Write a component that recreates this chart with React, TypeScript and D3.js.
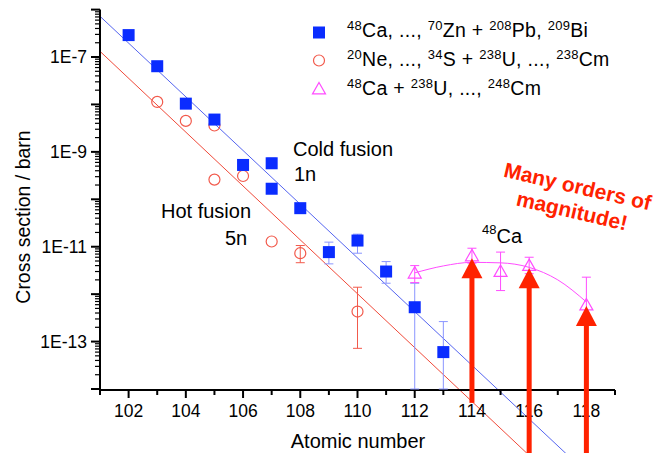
import React from "react";
import * as d3 from "d3";

const W = 655;
const H = 453;

const X_DOMAIN = [101, 119];
const Y_DOMAIN = [1e-14, 1e-6];
const X_TICK_LABELS = [102, 104, 106, 108, 110, 112, 114, 116, 118];
const X_MINOR = [101, 103, 105, 107, 109, 111, 113, 115, 117, 119];
const Y_TICK_VALUES = [1e-7, 1e-9, 1e-11, 1e-13];
const Y_TICK_LABELS = ["1E-7", "1E-9", "1E-11", "1E-13"];
const Y_DECADES = [-14, -13, -12, -11, -10, -9, -8, -7, -6];

// Cold fusion (48Ca ... 70Zn + 208Pb, 209Bi)
const COLD_Z = [102, 103, 104, 105, 106, 107, 107, 108, 109, 110, 111, 112, 113];
const COLD_SIGMA = [2.9e-7, 6.4e-8, 1.04e-8, 4.8e-9, 5.3e-10, 5.75e-10, 1.67e-10, 6.5e-11, 7.7e-12, 1.35e-11, 3.0e-12, 5.3e-13, 6.0e-14];
const COLD_ERR_LO = [null, 5.0e-8, null, null, null, 4.5e-10, null, null, 4.35e-12, 7.3e-12, 1.7e-12, 1e-14, 1e-14];
const COLD_ERR_HI = [null, 8.0e-8, null, null, null, 7.4e-10, null, null, 1.25e-11, 1.84e-11, 4.86e-12, 1.7e-12, 2.64e-13];

// Hot fusion (20Ne ... 34S + 238U ... 238Cm)
const HOT_Z = [103, 104, 105, 105, 106, 107, 108, 110];
const HOT_SIGMA = [1.13e-8, 4.5e-9, 3.6e-9, 2.6e-10, 3.1e-10, 1.29e-11, 7.3e-12, 4.3e-13];
const HOT_ERR_LO = [null, null, null, null, null, null, 4.6e-12, 7.2e-14];
const HOT_ERR_HI = [null, null, null, null, null, null, 1.06e-11, 1.4e-12];

// 48Ca + 238U ... 248Cm
const CA_Z = [112, 114, 115, 116, 118];
const CA_SIGMA = [2.77e-12, 6.4e-12, 3.0e-12, 4.0e-12, 5.9e-13];
const CA_ERR_LO = [1.75e-12, 4.5e-12, 1.19e-12, 2.7e-12, 3.5e-13];
const CA_ERR_HI = [4.0e-12, 9.3e-12, 7.7e-12, 6.0e-12, 2.28e-12];

// Smooth guide curve through the 48Ca data
const CA_CURVE_Z = [112, 113, 114, 115, 116, 117, 118];
const CA_CURVE_SIGMA = [2.81e-12, 3.94e-12, 4.68e-12, 4.57e-12, 3.67e-12, 2.0e-12, 6.85e-13];

// Exponential fits (log10 sigma at Z=101, slope in decades per Z)
const COLD_FIT = [-6.141, -0.5661];
const HOT_FIT = [-6.88, -0.568];
const FIT_Z_RANGE = [101, 119];

// Red arrows
const ARROW_Z = [114, 116, 118];
const ARROW_TIP = [5.7e-12, 3.5e-12, 5.65e-13];
const ARROW_BASE = [5.1e-15, 1e-16, 1e-16];

const FONT = "'Liberation Sans', Arial, Helvetica, sans-serif";

const BLUE = "#0a2cff";
const BLUE_LINE = "#5565f0";
const BLUE_ERR = "#8a95ff";
const RED = "#f25a4c";
const RED_LINE = "#f04a3a";
const MAG = "#ff4cff";
const ARROW = "#ff2200";

const x = d3.scaleLinear().domain(X_DOMAIN).range([100, 615]);
const y = d3.scaleLog().domain(Y_DOMAIN).range([389, 9.6]);

function fitPath(fit: number[]) {
  const pts = FIT_Z_RANGE.map((z) => [z, Math.pow(10, fit[0] + fit[1] * (z - 101))] as [number, number]);
  return d3.line<[number, number]>().x((d) => x(d[0])).y((d) => y(d[1]))(pts) || "";
}

function ErrBars({ zs, lo, hi, color }: { zs: number[]; lo: (number | null)[]; hi: (number | null)[]; color: string }) {
  return (
    <g stroke={color} strokeWidth={1} fill="none">
      {zs.map((z, i) => {
        if (lo[i] == null || hi[i] == null) return null;
        const cx = x(z);
        const y0 = Math.min(y(lo[i] as number), 389);
        const y1 = y(hi[i] as number);
        return (
          <g key={i}>
            <line x1={cx} x2={cx} y1={y0} y2={y1} />
            <line x1={cx - 4.5} x2={cx + 4.5} y1={y0} y2={y0} />
            <line x1={cx - 4.5} x2={cx + 4.5} y1={y1} y2={y1} />
          </g>
        );
      })}
    </g>
  );
}

function triPath(cx: number, cy: number, s = 6.5) {
  return `M${cx},${cy - s}L${cx + s * 1.0},${cy + s * 0.75}L${cx - s * 1.0},${cy + s * 0.75}Z`;
}

export default function App() {
  const yMinor: number[] = [];
  Y_DECADES.slice(0, -1).forEach((e) => {
    for (let m = 2; m <= 9; m++) yMinor.push(m * Math.pow(10, e));
  });
  const curve = d3
    .line<number>()
    .x((_, i) => x(CA_CURVE_Z[i]))
    .y((d) => y(d))
    .curve(d3.curveMonotoneX)(CA_CURVE_SIGMA) || "";

  const txt = { fontFamily: FONT, fill: "#000" };
  const SUP = 13;

  return (
    <svg width={W} height={H} style={{ position: "absolute", left: 0, top: 0, background: "#fff" }} xmlns="http://www.w3.org/2000/svg">
      <rect x={0} y={0} width={W} height={H} fill="#fff" />

      {/* fit lines */}
      <path d={fitPath(HOT_FIT)} stroke={RED_LINE} strokeWidth={1} fill="none" />
      <path d={fitPath(COLD_FIT)} stroke={BLUE_LINE} strokeWidth={1} fill="none" />
      <path d={curve} stroke={MAG} strokeWidth={1} fill="none" />

      {/* axes */}
      <g stroke="#000">
        <line x1={100} x2={100} y1={y(1e-6)} y2={390} strokeWidth={2} />
        <line x1={99} x2={615} y1={390} y2={390} strokeWidth={2} />
        {Y_DECADES.map((e) => (
          <line key={"yM" + e} x1={91} x2={100} y1={y(Math.pow(10, e))} y2={y(Math.pow(10, e))} strokeWidth={2} />
        ))}
        {yMinor.map((v, i) => (
          <line key={"ym" + i} x1={95} x2={100} y1={y(v)} y2={y(v)} strokeWidth={1.2} />
        ))}
        {X_TICK_LABELS.map((v) => (
          <line key={"xM" + v} x1={x(v)} x2={x(v)} y1={390} y2={398} strokeWidth={2} />
        ))}
        {X_MINOR.map((v) => (
          <line key={"xm" + v} x1={x(v)} x2={x(v)} y1={390} y2={395} strokeWidth={2} />
        ))}
      </g>
      <g {...txt} fontSize={17.5}>
        {X_TICK_LABELS.map((v) => (
          <text key={"xl" + v} x={x(v)} y={417} textAnchor="middle">
            {v}
          </text>
        ))}
        {Y_TICK_VALUES.map((v, i) => (
          <text key={"yl" + i} x={87} y={y(v) + 6} textAnchor="end">
            {Y_TICK_LABELS[i]}
          </text>
        ))}
      </g>
      <text {...txt} fontSize={20} x={358} y={448} textAnchor="middle">
        Atomic number
      </text>
      <text {...txt} fontSize={19.5} textAnchor="middle" transform="translate(30,217) rotate(-90)">
        Cross section / barn
      </text>

      {/* error bars */}
      <ErrBars zs={HOT_Z} lo={HOT_ERR_LO} hi={HOT_ERR_HI} color={RED} />
      <ErrBars zs={COLD_Z} lo={COLD_ERR_LO} hi={COLD_ERR_HI} color={BLUE_ERR} />
      <ErrBars zs={CA_Z} lo={CA_ERR_LO} hi={CA_ERR_HI} color={MAG} />

      {/* symbols */}
      {HOT_Z.map((z, i) => (
        <circle key={"h" + i} cx={x(z)} cy={y(HOT_SIGMA[i])} r={5.5} fill="none" stroke={RED} strokeWidth={1.2} />
      ))}
      {COLD_Z.map((z, i) => (
        <rect key={"c" + i} x={x(z) - 6} y={y(COLD_SIGMA[i]) - 6} width={12} height={12} fill={BLUE} />
      ))}
      {CA_Z.map((z, i) => (
        <path key={"t" + i} d={triPath(x(z), y(CA_SIGMA[i]))} fill="none" stroke={MAG} strokeWidth={1.2} />
      ))}

      {/* arrows */}
      {ARROW_Z.map((z, i) => {
        const cx = x(z);
        const yt = y(ARROW_TIP[i]);
        const yb = y(ARROW_BASE[i]);
        return (
          <g key={"a" + i} fill={ARROW}>
            <rect x={cx - 2.5} y={yt + 15} width={5} height={Math.max(0, yb - yt - 15)} />
            <path d={`M${cx},${yt}L${cx + 10.5},${yt + 20}L${cx - 10.5},${yt + 20}Z`} />
          </g>
        );
      })}

      {/* legend */}
      <rect x={313} y={26.5} width={12} height={12} fill={BLUE} />
      <circle cx={319} cy={60.5} r={5.5} fill="none" stroke={RED} strokeWidth={1.2} />
      <path d={triPath(319, 89)} fill="none" stroke={MAG} strokeWidth={1.2} />
      <g {...txt} fontSize={19.5} letterSpacing={0.3} style={{ whiteSpace: "pre" }}>
        <text x={347} y={37}>
          <tspan fontSize={SUP} dy={-7}>48</tspan>
          <tspan dy={7}>Ca, ..., </tspan>
          <tspan fontSize={SUP} dy={-7}>70</tspan>
          <tspan dy={7}>Zn + </tspan>
          <tspan fontSize={SUP} dy={-7}>208</tspan>
          <tspan dy={7}>Pb, </tspan>
          <tspan fontSize={SUP} dy={-7}>209</tspan>
          <tspan dy={7}>Bi</tspan>
        </text>
        <text x={347} y={66}>
          <tspan fontSize={SUP} dy={-7}>20</tspan>
          <tspan dy={7}>Ne, ..., </tspan>
          <tspan fontSize={SUP} dy={-7}>34</tspan>
          <tspan dy={7}>S + </tspan>
          <tspan fontSize={SUP} dy={-7}>238</tspan>
          <tspan dy={7}>U, ...,  </tspan>
          <tspan fontSize={SUP} dy={-7}>238</tspan>
          <tspan dy={7}>Cm</tspan>
        </text>
        <text x={347} y={95}>
          <tspan fontSize={SUP} dy={-7}>48</tspan>
          <tspan dy={7}>Ca + </tspan>
          <tspan fontSize={SUP} dy={-7}>238</tspan>
          <tspan dy={7}>U, ...,  </tspan>
          <tspan fontSize={SUP} dy={-7}>248</tspan>
          <tspan dy={7}>Cm</tspan>
        </text>
      </g>

      {/* annotations */}
      <g {...txt} fontSize={20}>
        <text x={293} y={156}>Cold fusion</text>
        <text x={294} y={181}>1n</text>
        <text x={161} y={218}>Hot fusion</text>
        <text x={225} y={245}>5n</text>
        <text x={482} y={243}>
          <tspan fontSize={SUP} dy={-9}>48</tspan>
          <tspan dy={9}>Ca</tspan>
        </text>
      </g>
      <text
        fontFamily={FONT}
        fontWeight="bold"
        fontSize={21}
        fill={ARROW}
        textAnchor="middle"
        transform="translate(576,193.5) rotate(13)"
      >
        <tspan x={0} y={0}>Many orders of</tspan>
        <tspan x={0} y={25}>magnitude!</tspan>
      </text>
    </svg>
  );
}
